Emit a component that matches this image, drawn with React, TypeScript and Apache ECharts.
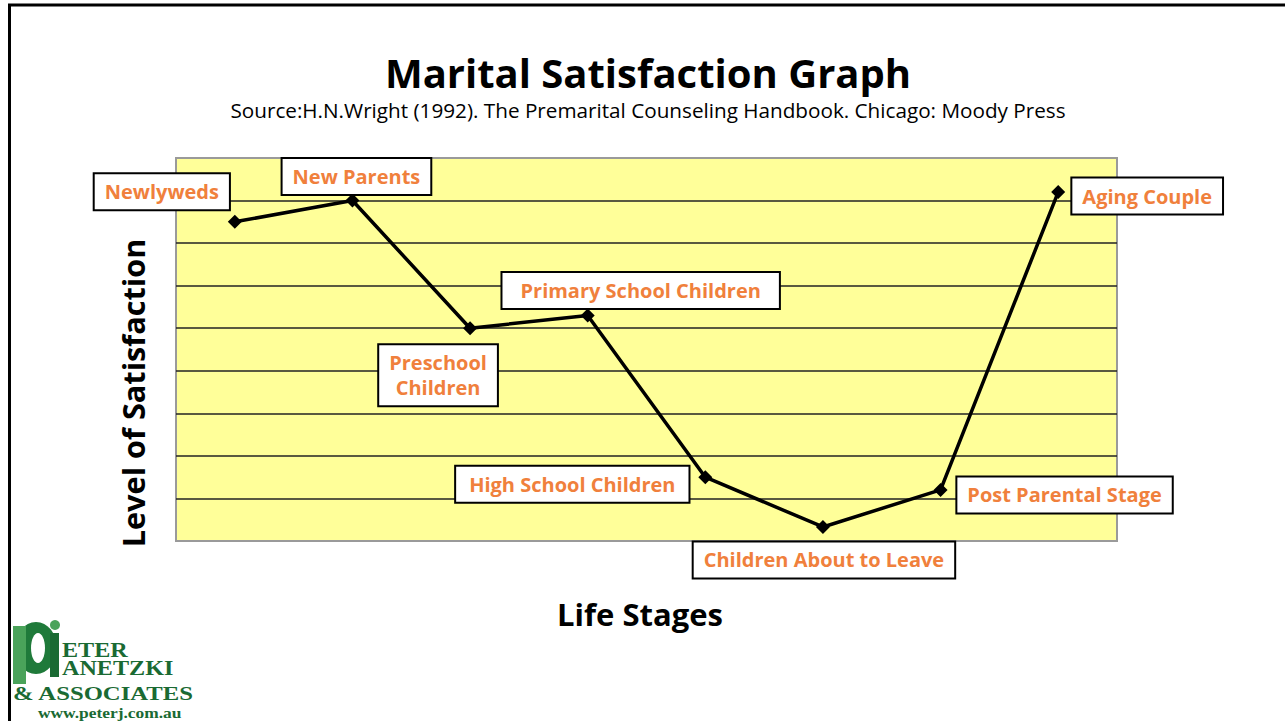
import React, { useEffect, useRef } from "react";
import * as echarts from "echarts";

const stages = [
  "Newlyweds",
  "New Parents",
  "Preschool\nChildren",
  "Primary School Children",
  "High School Children",
  "Children About to Leave",
  "Post Parental Stage",
  "Aging Couple",
];
const satisfaction = [7.5, 8.0, 5.0, 5.3, 1.5, 0.33, 1.2, 8.2];
const labelOffsets = [
  [-73, -30],
  [4, -24],
  [-32, 47],
  [53, -25],
  [-133, 7],
  [1, 33],
  [124, 5],
  [89, 4],
];
const labelPadX = [10, 10, 10, 18, 13, 10, 10, 10];
const yTicks = [0, 9, 1];

const FONT = "'Open Sans', 'DejaVu Sans', sans-serif";
const SERIF = "'Liberation Serif', 'DejaVu Serif', serif";
const ORANGE = "#F0803C";
const LOGO_DARK = "#1a6a33";

export default function App() {
  const ref = useRef<HTMLDivElement>(null);
  useEffect(() => {
    if (!ref.current) return;
    const chart = echarts.init(ref.current, null, { renderer: "svg" });
    const option: any = {
      animation: false,
      backgroundColor: "#ffffff",
      grid: {
        left: 176,
        top: 158,
        width: 941,
        height: 383,
        show: true,
        backgroundColor: "#FFFF99",
        borderColor: "#9a9a9a",
        borderWidth: 2,
      },
      xAxis: {
        type: "category",
        data: stages,
        boundaryGap: true,
        axisLine: { show: false },
        axisTick: { show: false },
        axisLabel: { show: false },
        splitLine: { show: false },
      },
      yAxis: {
        type: "value",
        min: yTicks[0],
        max: yTicks[1],
        interval: yTicks[2],
        axisLine: { show: false },
        axisTick: { show: false },
        axisLabel: { show: false },
        splitLine: {
          show: true,
          showMinLine: false,
          showMaxLine: false,
          lineStyle: { color: "#222", width: 1.5 },
        },
      },
      series: [
        {
          type: "line",
          data: satisfaction.map((v, i) => ({
            value: v,
            label: {
              offset: labelOffsets[i],
              padding: [5, labelPadX[i], 5, labelPadX[i]],
            },
          })),
          symbol: "diamond",
          symbolSize: 14,
          itemStyle: { color: "#000" },
          lineStyle: { color: "#000", width: 3.5 },
          z: 3,
          label: {
            show: true,
            position: "inside",
            formatter: "{b}",
            color: ORANGE,
            fontFamily: FONT,
            fontWeight: "bold",
            fontSize: 20,
            lineHeight: 25,
            align: "center",
            verticalAlign: "middle",
            backgroundColor: "#fff",
            borderColor: "#000",
            borderWidth: 2,
          },
        },
      ],
      graphic: [
        { type: "line", shape: { x1: 8, y1: 5, x2: 1285, y2: 5 }, style: { stroke: "#000", lineWidth: 3 } },
        { type: "line", shape: { x1: 9.5, y1: 4, x2: 9.5, y2: 721 }, style: { stroke: "#000", lineWidth: 3 } },
        {
          type: "text",
          x: 648,
          y: 72,
          style: {
            text: "Marital Satisfaction Graph",
            fontFamily: FONT,
            fontWeight: "bold",
            fontSize: 40,
            fill: "#000",
            textAlign: "center",
            textVerticalAlign: "middle",
          },
        },
        {
          type: "text",
          x: 648,
          y: 110,
          style: {
            text: "Source:H.N.Wright (1992). The Premarital Counseling Handbook. Chicago: Moody Press",
            fontFamily: FONT,
            fontSize: 20.7,
            fill: "#000",
            textAlign: "center",
            textVerticalAlign: "middle",
          },
        },
        {
          type: "text",
          x: 133,
          y: 393,
          rotation: Math.PI / 2,
          style: {
            text: "Level of Satisfaction",
            fontFamily: FONT,
            fontWeight: "bold",
            fontSize: 30.7,
            fill: "#000",
            textAlign: "center",
            textVerticalAlign: "middle",
          },
        },
        {
          type: "text",
          x: 640,
          y: 614,
          style: {
            text: "Life Stages",
            fontFamily: FONT,
            fontWeight: "bold",
            fontSize: 31,
            fill: "#000",
            textAlign: "center",
            textVerticalAlign: "middle",
          },
        },
        // logo
        { type: "ellipse", shape: { cx: 36, cy: 648, rx: 21, ry: 26 }, style: { fill: "#1f7a3a" } },
        { type: "ellipse", shape: { cx: 38, cy: 648, rx: 7, ry: 15 }, style: { fill: "#ffffff" } },
        { type: "rect", shape: { x: 13, y: 626, width: 13, height: 58 }, style: { fill: "#4aa35a" } },
        { type: "rect", shape: { x: 50, y: 633, width: 9, height: 44 }, style: { fill: LOGO_DARK } },
        { type: "circle", shape: { cx: 55, cy: 625, r: 5 }, style: { fill: "#4aa35a" } },
        {
          type: "text",
          x: 62,
          y: 659,
          scaleX: 1.15,
          style: {
            text: "ETER\nANETZKI",
            fontFamily: SERIF,
            fontWeight: "bold",
            fontSize: 21,
            lineHeight: 18,
            fill: LOGO_DARK,
            textVerticalAlign: "middle",
          },
        },
        {
          type: "text",
          x: 13,
          y: 694,
          scaleX: 1.3,
          style: { text: "& ASSOCIATES", fontFamily: SERIF, fontWeight: "bold", fontSize: 19, fill: LOGO_DARK, textVerticalAlign: "middle" },
        },
        {
          type: "text",
          x: 38,
          y: 713,
          scaleX: 1.2,
          style: { text: "www.peterj.com.au", fontFamily: SERIF, fontWeight: "bold", fontSize: 14.5, fill: LOGO_DARK, textVerticalAlign: "middle" },
        },
      ],
    };
    chart.setOption(option);
    return () => chart.dispose();
  }, []);
  return (
    <div
      ref={ref}
      style={{ position: "fixed", left: 0, top: 0, width: 1285, height: 721 }}
    />
  );
}
